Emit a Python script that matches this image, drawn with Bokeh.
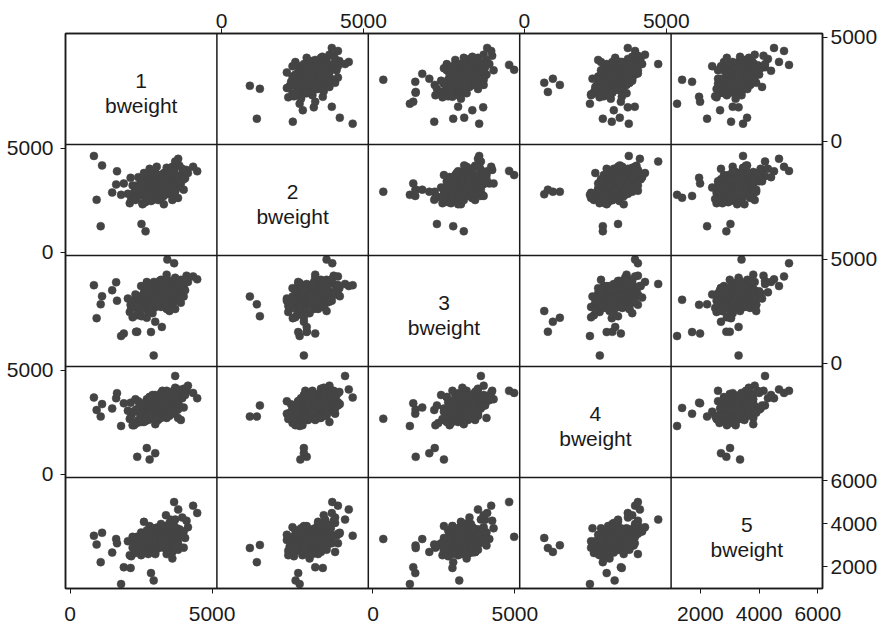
from bokeh.plotting import figure
from bokeh.models import ColumnDataSource, Range1d, LinearAxis, FixedTicker, Span
from bokeh.core.properties import value
from bokeh.embed import file_html
from bokeh.resources import INLINE

# ---- data: birth weight of the 1st..5th child (grams) ----
bweight1 = [3000, 2700, 3400, 2400, 3250, 3750, 2300, 3050, 3600, 2600,
            3200, 2850, 3350, 2100, 3900, 2650, 3500, 2950, 2500, 3650,
            3300, 2800, 3100, 4100, 2350, 3450, 3050, 2550, 3600, 3200,
            2750, 3400, 3800, 2250, 3550, 2900, 2650, 4000, 3150, 3000,
            2450, 3700, 2800, 3350, 2600, 3850, 3000, 3300, 2150, 3150,
            2700, 3600, 4150, 2950, 2650, 3500, 3250, 2400, 3750, 3050,
            2850, 3400, 2550, 3950, 2950, 3250, 2600, 3650, 3100, 2800,
            3500, 2950, 2350, 3850, 3200, 3600, 2650, 3000, 4050, 2850,
            2200, 3400, 3050, 3300, 3700, 2750, 3150, 3450, 2500, 3550,
            3300, 2800, 3600, 2900, 3100, 3500, 2600, 3200, 3700, 3000,
            2700, 3400, 3100, 2500, 3800, 2900, 3300, 3000, 3500, 2800,
            3200, 3600, 2700, 3400, 3000, 3300, 2600, 3700, 3100, 2900,
            3500, 3200, 2800, 3400, 3000, 3600, 2700, 3300, 3100, 2900,
            3500, 3200, 2600, 3800, 3000, 3300, 2800, 3400, 3100, 3600,
            2900, 3200, 3500, 2700, 3300, 3000, 3400, 3100, 2800, 3500,
            2400, 3800, 2500, 3700, 2300, 3900, 2600, 3600, 2700, 3500,
            2200, 4000, 2800, 3300, 2900, 3200, 3000, 3400, 2600, 3600,
            836, 1075, 932, 1123, 2943, 2656, 2512, 1480, 1620, 1650,
            1890, 1794, 2129, 2033, 2320, 2943, 2847, 4476, 4332, 3806,
            3662, 3423, 2362, 2996, 2700, 2800, 3700, 3375, 3230]
bweight2 = [3150, 2550, 3550, 2700, 3000, 3400, 2500, 3450, 3950, 2950,
            2850, 3150, 3750, 2350, 3700, 2400, 3250, 3500, 2850, 3800,
            3500, 3300, 2700, 3950, 2650, 3100, 3700, 2300, 3400, 3350,
            2950, 4050, 3150, 2850, 3650, 2500, 3100, 3500, 2700, 3850,
            3050, 3300, 3400, 3800, 2750, 4150, 2900, 3050, 2550, 3550,
            3750, 2950, 3800, 3250, 2650, 4000, 3400, 3150, 3600, 2900,
            3650, 3300, 2350, 4000, 3450, 2950, 3450, 3850, 2500, 2800,
            3500, 3800, 3200, 3200, 3600, 4100, 3250, 3000, 3550, 2450,
            2600, 2900, 4100, 2750, 3600, 3050, 3350, 3700, 2750, 3150,
            2700, 3500, 3000, 3300, 3700, 2800, 3200, 2600, 3300, 3600,
            3000, 3400, 2900, 3400, 3100, 2700, 3800, 3100, 3500, 2900,
            3300, 2700, 3600, 3000, 3400, 3200, 2800, 3600, 3000, 3500,
            3100, 2800, 3300, 3700, 2900, 3400, 3100, 3500, 2700, 3200,
            3300, 3600, 3000, 3400, 3200, 2900, 3400, 3100, 3500, 3200,
            3000, 3700, 2900, 3300, 3300, 3600, 2800, 3200, 3100, 3400,
            3600, 2600, 3300, 2900, 3000, 3300, 3800, 2500, 2700, 3700,
            3200, 3000, 4000, 2300, 3100, 3500, 2800, 3200, 3400, 3100,
            4620, 1243, 2510, 4166, 2900, 997, 1350, 2862, 3250, 3884,
            3300, 2750, 3567, 2800, 3000, 2608, 2700, 3884, 4100, 4482,
            3900, 3700, 3000, 2900, 2900, 2776, 4351, 3600, 3000]
bweight3 = [2950, 2800, 3700, 2500, 3400, 3550, 2750, 3250, 3800, 2800,
            3100, 3400, 3500, 2450, 4000, 2650, 3150, 3600, 3000, 3300,
            3850, 3000, 3550, 4200, 2300, 2850, 3350, 3100, 3450, 3700,
            2500, 3550, 3250, 2700, 3950, 2700, 3200, 3700, 2900, 3400,
            2850, 4100, 3100, 2950, 3250, 3600, 3450, 2950, 2650, 3950,
            3100, 3300, 3900, 2650, 2950, 3350, 3650, 3200, 3800, 3150,
            3550, 4250, 2750, 3400, 2800, 3650, 3400, 3050, 3200, 3600,
            3500, 3900, 3050, 3300, 3200, 3750, 2600, 3800, 3500, 2900,
            2200, 2800, 3300, 3850, 3150, 3350, 3000, 3600, 2600, 3750,
            3000, 3300, 2800, 3700, 2900, 3400, 3100, 3500, 3000, 2700,
            3600, 2600, 3300, 3200, 3300, 3800, 3100, 2900, 3600, 3000,
            3400, 3200, 3500, 2800, 3100, 3700, 3300, 3000, 3600, 2900,
            3500, 2700, 3400, 3300, 3100, 3800, 2800, 3000, 3400, 3600,
            2900, 3300, 3000, 3500, 3700, 3200, 2700, 3400, 3100, 3000,
            3300, 3500, 3100, 3600, 2900, 3400, 3200, 2800, 3100, 3600,
            2700, 3500, 3700, 2600, 3300, 2900, 3000, 3600, 3900, 2500,
            3000, 3200, 3300, 3000, 2400, 4000, 3200, 2800, 3100, 3300,
            3742, 2827, 2158, 3214, 363, 3200, 2253, 3500, 3883, 3000,
            1419, 1300, 2800, 3100, 1500, 3040, 1490, 4024, 4165, 3700,
            4798, 4974, 1506, 1985, 2177, 2500, 3802, 3900, 1736]
bweight4 = [3250, 2750, 3450, 2600, 3550, 3850, 2450, 3100, 3650, 3050,
            2950, 3300, 3250, 2650, 3750, 2950, 3400, 3750, 2700, 4000,
            3550, 2650, 3200, 4000, 2450, 3350, 3450, 2900, 3100, 3650,
            3150, 3800, 3450, 2350, 3300, 3050, 2800, 4100, 3200, 3100,
            3300, 3550, 2950, 3700, 2700, 3950, 3300, 2850, 2800, 3350,
            3600, 3800, 4250, 3450, 2550, 3150, 3850, 3050, 3400, 3600,
            3200, 3600, 2850, 3650, 2700, 4000, 3250, 3450, 3100, 3650,
            2950, 3500, 3000, 3250, 3900, 3450, 3000, 3150, 3800, 3350,
            2350, 3050, 3300, 3400, 4150, 2600, 3500, 3700, 2500, 3350,
            3500, 2900, 3300, 3100, 2800, 3600, 3400, 3000, 2900, 3300,
            3200, 3700, 2700, 3300, 3100, 3500, 3000, 3800, 2800, 3600,
            3100, 3400, 3000, 3200, 3500, 2900, 3300, 3600, 2600, 3400,
            3200, 3000, 3700, 3300, 2800, 3500, 3100, 3400, 3300, 2900,
            3600, 3200, 2900, 3400, 3000, 3800, 3300, 2700, 3500, 3100,
            3400, 3000, 3500, 3200, 3600, 2800, 3300, 3100, 3700, 3300,
            3500, 2700, 2800, 3700, 3600, 2600, 2500, 3100, 3300, 3000,
            3000, 3200, 2900, 3500, 3800, 2700, 2400, 4000, 3300, 3000,
            3679, 2764, 3080, 3362, 2658, 2765, 3300, 3151, 3644, 3890,
            3400, 2310, 3433, 3045, 3100, 3180, 2900, 3644, 3900, 4070,
            4000, 3900, 828, 1004, 1250, 700, 4716, 3800, 3200]
bweight5 = [3100, 2950, 3600, 2750, 3300, 3800, 2650, 3550, 3450, 2900,
            3500, 3000, 3850, 2550, 3600, 2950, 3700, 3350, 2550, 3950,
            3150, 3400, 3050, 4150, 3000, 3550, 2950, 3250, 4000, 3750,
            2750, 3450, 3300, 3200, 4200, 3400, 3550, 3650, 2900, 3800,
            2800, 3300, 3900, 3100, 3450, 3550, 3050, 3600, 2500, 3350,
            3250, 3150, 3850, 3700, 3000, 4050, 3000, 3350, 3450, 2850,
            3150, 3800, 2750, 4300, 3300, 3550, 3050, 3200, 3850, 3500,
            2950, 3650, 3400, 3750, 4000, 3100, 3200, 3500, 3350, 3150,
            2900, 3900, 3550, 3300, 3650, 2600, 3750, 3400, 3100, 3650,
            2900, 3600, 3200, 2800, 3400, 3000, 3300, 3700, 3100, 3500,
            2900, 3300, 3800, 3000, 2800, 3300, 3100, 3600, 2700, 3400,
            3200, 3500, 3000, 3900, 2600, 3300, 3100, 3400, 3200, 3700,
            2900, 3000, 3500, 2800, 3300, 3600, 3100, 3800, 3400, 2700,
            3200, 3000, 3500, 3100, 3300, 3000, 3600, 3400, 2900, 3700,
            3200, 3300, 3500, 3000, 3100, 3400, 3300, 3600, 2800, 3200,
            3300, 2900, 3600, 3000, 2800, 3500, 3200, 2700, 3700, 3900,
            3400, 2900, 2700, 3500, 3100, 3000, 3800, 2600, 4100, 2400,
            3452, 2226, 3044, 3589, 3300, 2883, 3023, 2669, 3300, 3100,
            1988, 1204, 1954, 3200, 3000, 1375, 1715, 4508, 4849, 4678,
            5019, 3400, 2883, 2700, 3010, 3350, 4202, 4406, 3300]

var_numbers = ["1", "2", "3", "4", "5"]
var_name = "bweight"
ticks_1to4 = [0, 5000]
ticks_5 = [2000, 4000, 6000]
var_ranges = [(-165, 5170), (-165, 5170), (-165, 5170), (-165, 5170), (1000, 6160)]
var_ticks = [ticks_1to4, ticks_1to4, ticks_1to4, ticks_1to4, ticks_5]

N = 5
source = ColumnDataSource(dict(v1=bweight1, v2=bweight2, v3=bweight3,
                               v4=bweight4, v5=bweight5))

FONT = "Liberation Sans"
INK = "#1a1a1a"
DOT = "#444444"

# one figure; the frame is divided into 5 x 5 equal cells (cell units 0..5)
p = figure(width=884, height=627, x_range=Range1d(0, N), y_range=Range1d(0, N),
           x_axis_location=None, y_axis_location=None,
           min_border_left=65, min_border_right=62, min_border_top=33, min_border_bottom=39,
           output_backend="svg", toolbar_location=None)
p.grid.visible = False
p.outline_line_color = INK
p.outline_line_width = 1.5
p.background_fill_color = "white"
p.border_fill_color = "white"

# each column / row gets its own data range, mapped onto its cell
for k in range(N):
    a, b = var_ranges[k]
    span = b - a
    p.extra_x_ranges[f"x{k}"] = Range1d(a - k * span, a + (N - k) * span)
    p.extra_y_ranges[f"y{k}"] = Range1d(a - (N - 1 - k) * span, a + (k + 1) * span)

# cell separators
for k in range(1, N):
    p.add_layout(Span(location=k, dimension="height", line_color=INK, line_width=1.5))
    p.add_layout(Span(location=k, dimension="width", line_color=INK, line_width=1.5))

for r in range(N):
    for c in range(N):
        if r == c:
            p.text(x=[c + 0.5, c + 0.5], y=[(N - 1 - r) + 0.57, (N - 1 - r) + 0.35],
                   text=[var_numbers[r], var_name],
                   text_align="center", text_baseline="middle",
                   text_font=value(FONT), text_font_size="21px", text_color=INK)
        else:
            p.scatter(x=f"v{c + 1}", y=f"v{r + 1}", source=source, size=8,
                      fill_color=DOT, line_color=DOT, line_width=0.5,
                      x_range_name=f"x{c}", y_range_name=f"y{r}")


def x_tick(c, v):
    a, b = var_ranges[c]
    return c + (v - a) / (b - a)


def y_tick(r, v):
    a, b = var_ranges[r]
    return (N - 1 - r) + (v - a) / (b - a)


def add_axis(side, cells, pos_fn, standoff):
    ticks, labels = [], {}
    for k in cells:
        for v in var_ticks[k]:
            t = round(pos_fn(k, v), 6)
            ticks.append(t)
            labels[t] = str(v)
    ax = LinearAxis(ticker=FixedTicker(ticks=ticks, minor_ticks=[]))
    ax.major_label_overrides = labels
    ax.axis_line_color = INK
    ax.axis_line_width = 1.5
    ax.major_tick_line_color = INK
    ax.major_tick_line_width = 1
    ax.major_tick_out = 5
    ax.major_tick_in = 0
    ax.minor_tick_out = 0
    ax.minor_tick_in = 0
    ax.major_label_text_font = FONT
    ax.major_label_text_font_size = "21px"
    ax.major_label_text_color = INK
    ax.major_label_standoff = standoff
    p.add_layout(ax, side)


# Stata-style alternating axes
add_axis("above", [1, 3], x_tick, 1)
add_axis("below", [0, 2, 4], x_tick, 13)
add_axis("left", [1, 3], y_tick, 7)
add_axis("right", [0, 2, 4], y_tick, 3)

open("out.html", "w").write(file_html(p, INLINE))
